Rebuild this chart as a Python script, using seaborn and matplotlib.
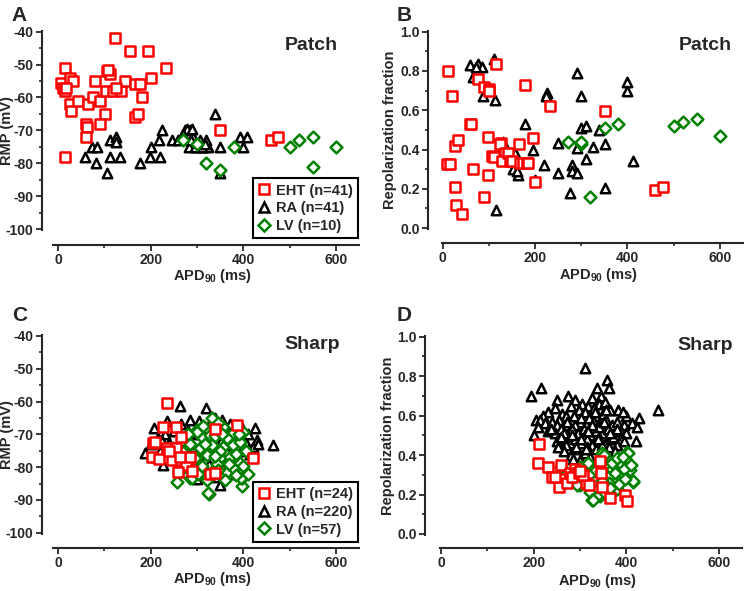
import seaborn as sns
import matplotlib.pyplot as plt
import numpy as np
import pandas as pd
from matplotlib.ticker import MultipleLocator
from matplotlib.lines import Line2D

# ---- Patch: RMP vs APD90 (A) ----
a_eht_x = [124, 155, 195, 233, 14, 7, 10, 14, 25, 32, 18, 25, 27, 43, 65, 76, 79, 90, 106, 112,
           108, 104, 119, 135, 145, 166, 178, 200, 182, 166, 172, 101, 90, 60, 63, 61, 14, 349, 460, 475, 125]
a_eht_y = [-42, -46, -46, -51, -51, -55.5, -57, -58, -54, -55, -57, -62, -64, -61, -62, -60, -55, -61, -52, -53,
           -51.5, -58, -58, -58, -55, -56, -56, -54, -60, -66, -65, -65, -68, -68, -69, -72, -78, -70, -73, -72, -57]
a_ra_x = [339, 58, 74, 85, 83, 106, 113, 125, 126, 113, 133, 177, 200, 198, 220, 217, 224, 247, 274, 285,
          292, 306, 302, 313, 324, 283, 349, 349, 393, 408, 400, 278, 289, 296, 280, 270, 260, 310, 320, 288, 318]
a_ra_y = [-65, -78, -75, -75, -80, -83, -73, -72, -73.5, -78, -78, -80, -75, -78, -78, -73, -70, -73, -70, -70,
          -72, -73, -75, -75, -75, -75, -75, -83, -72, -72, -75, -69.5, -69.5, -75, -72, -71, -73, -75, -73, -73, -74]
a_lv_x = [269, 300, 320, 349, 380, 500, 520, 551, 551, 600]
a_lv_y = [-73, -74, -80, -82, -75, -75, -73, -72, -81, -75]

# ---- Patch: repolarization fraction vs APD90 (B) ----
b_eht_x = [12, 21, 9, 16, 27, 34, 27, 29, 41, 59, 62, 65, 89, 98, 99, 106, 112, 77, 89, 101, 100,
           115, 126, 124, 135, 128, 141, 146, 150, 166, 167, 173, 182, 185, 195, 178, 200, 232, 351, 459, 476]
b_eht_y = [0.80, 0.67, 0.325, 0.325, 0.42, 0.45, 0.21, 0.115, 0.07, 0.53, 0.53, 0.30, 0.16, 0.27, 0.465, 0.365,
           0.36, 0.76, 0.72, 0.71, 0.70, 0.835, 0.435, 0.43, 0.38, 0.34, 0.38, 0.34, 0.34, 0.43, 0.33, 0.33, 0.33,
           0.33, 0.46, 0.73, 0.237, 0.62, 0.597, 0.195, 0.21]
b_ra_x = [59, 77, 86, 110, 65, 88, 113, 115, 126, 131, 126, 153, 157, 164, 179, 196, 200, 219, 225, 224,
          249, 250, 276, 279, 279, 290, 290, 290, 299, 299, 310, 310, 326, 339, 351, 351, 400, 398, 411, 72, 160]
b_ra_y = [0.83, 0.835, 0.82, 0.86, 0.77, 0.67, 0.65, 0.09, 0.39, 0.44, 0.355, 0.30, 0.38, 0.27, 0.53, 0.40,
          0.245, 0.32, 0.69, 0.675, 0.435, 0.28, 0.18, 0.32, 0.29, 0.28, 0.41, 0.79, 0.67, 0.51, 0.52, 0.35,
          0.415, 0.50, 0.43, 0.205, 0.745, 0.70, 0.34, 0.82, 0.29]
b_lv_x = [272, 299, 319, 351, 380, 500, 521, 551, 600, 300]
b_lv_y = [0.44, 0.43, 0.16, 0.51, 0.53, 0.52, 0.54, 0.555, 0.47, 0.44]

# ---- Sharp: RMP vs APD90 (C) ----
c_eht_x = [236, 227, 254, 266, 338, 386, 205, 202, 218, 236, 254, 247, 266, 283, 276, 258, 290, 328,
           338, 420, 285, 209, 263, 240]
c_eht_y = [-60.3, -67.7, -67.7, -70.9, -68.5, -67.3, -72.6, -76.8, -77.6, -74.2, -74.2, -77.8, -77.8, -77.6,
           -79.4, -81.4, -81.2, -82.1, -81.7, -77.3, -76.8, -72.3, -76.8, -75]
c_ra_x = [187, 200, 207, 215, 220, 227, 232, 240, 245, 250, 255, 263, 265, 270, 275, 280, 285, 290, 295, 299,
          300, 305, 310, 315, 320, 322, 325, 330, 335, 340, 345, 349, 352, 355, 360, 365, 368, 372, 378, 382,
          388, 392, 398, 403, 410, 415, 420, 426, 430, 432, 465, 212, 236, 258, 288, 318, 338, 362, 375, 395,
          345, 330, 310, 283, 268, 248, 225]
c_ra_y = [-75.6, -73, -68.2, -71, -75, -79.5, -70, -72.5, -77, -69, -74, -61.3, -67, -72, -76, -69, -65.5, -74,
          -79, -83.5, -70, -66, -76, -72, -62, -68, -79, -74, -70, -65, -77, -85.6, -72, -65.6, -69, -75, -80,
          -67, -71, -77, -74, -79, -68, -72, -70, -76, -74, -68.2, -71.7, -73, -73.4, -77, -66, -80, -78, -82,
          -83, -78, -82, -75, -68, -66, -70, -73, -78, -74, -72]
c_lv_x = [256, 286, 326, 333, 398, 398, 299, 299, 314, 328, 306, 332, 357, 378, 393, 400, 296, 321, 350, 371,
          393, 400, 310, 332, 364, 378, 396, 324, 289, 357, 378, 345, 340, 365, 350, 285, 270, 275, 290, 318,
          343, 360, 385, 405, 410, 385, 345, 303, 265, 280, 312, 370, 338, 322, 355, 390, 262]
c_lv_y = [-84.5, -83.4, -88.2, -65.1, -85.8, -83.4, -68.7, -69.2, -71.2, -70.2, -74.3, -73.3, -73.8, -73.3,
          -72.2, -69.2, -77.3, -76.3, -77.3, -76.8, -78.8, -79.8, -79.8, -81.4, -81.4, -80.4, -83.4, -88, -83.4,
          -67.7, -69.7, -66.5, -70.5, -71, -75, -73, -75.5, -79, -80, -73, -79, -84, -76, -75, -82, -82.5, -81,
          -82, -81, -70, -67.5, -79, -76.5, -84, -70, -70, -77]

# ---- Sharp: repolarization fraction vs APD90 (D) ----
d_eht_x = [212, 210, 230, 239, 258, 257, 255, 271, 278, 289, 294, 282, 298, 314, 320, 343, 345, 348,
           365, 397, 401, 307, 246, 300]
d_eht_y = [0.455, 0.36, 0.34, 0.29, 0.35, 0.28, 0.24, 0.26, 0.31, 0.33, 0.31, 0.29, 0.31, 0.26, 0.25, 0.37,
           0.31, 0.24, 0.18, 0.20, 0.165, 0.30, 0.29, 0.32]
d_ra_x = [194, 215, 250, 275, 311, 336, 359, 363, 290, 305, 325, 345, 340, 355, 318,
          230, 245, 262, 280, 297, 310, 330, 350, 365, 383, 399, 469, 428, 220, 270, 335, 392,
          205, 214, 225, 240, 255, 268, 285, 300, 315, 328, 342, 357, 370, 380, 395, 412, 422, 250, 290, 320,
          201, 210, 232, 245, 260, 275, 282, 295, 308, 322, 335, 348, 360, 375, 388, 400, 265, 340, 310, 380,
          250, 262, 278, 290, 303, 316, 330, 343, 356, 368, 380, 421, 395, 270, 325,
          253, 265, 280, 292, 300, 310, 322, 335, 350, 362, 375, 285, 315, 345,
          238, 258, 287, 302, 327, 352, 372, 292, 312, 333, 347, 365, 283, 303, 338, 357, 272, 318]
d_ra_y = [0.70, 0.74, 0.68, 0.70, 0.84, 0.74, 0.78, 0.74, 0.68, 0.66, 0.69, 0.70, 0.66, 0.67, 0.65,
          0.62, 0.64, 0.61, 0.65, 0.63, 0.62, 0.64, 0.61, 0.63, 0.63, 0.60, 0.63, 0.59, 0.60, 0.60, 0.60, 0.62,
          0.58, 0.58, 0.56, 0.57, 0.58, 0.55, 0.58, 0.57, 0.56, 0.58, 0.56, 0.58, 0.55, 0.57, 0.55, 0.56, 0.54,
          0.55, 0.55, 0.59,
          0.50, 0.54, 0.52, 0.51, 0.53, 0.50, 0.53, 0.51, 0.53, 0.50, 0.52, 0.51, 0.53, 0.50, 0.52, 0.51, 0.51,
          0.54, 0.50, 0.53,
          0.47, 0.48, 0.46, 0.48, 0.46, 0.48, 0.46, 0.48, 0.46, 0.48, 0.45, 0.47, 0.47, 0.45, 0.45,
          0.44, 0.42, 0.40, 0.43, 0.375, 0.41, 0.39, 0.43, 0.41, 0.44, 0.42, 0.38, 0.44, 0.38,
          0.53, 0.49, 0.60, 0.48, 0.55, 0.57, 0.49, 0.44, 0.43, 0.62, 0.45, 0.51, 0.50, 0.59, 0.48, 0.63, 0.57, 0.52]
d_lv_x = [347, 401, 399, 402, 415, 386, 372, 358, 332, 314, 321, 325, 343, 375, 300, 336, 328, 379, 311, 365,
          351, 318, 293, 394, 408, 404, 400, 414, 379, 260, 265, 355, 340, 390, 370, 335, 310, 350, 362, 385,
          395, 345, 305, 330, 370, 380, 392, 320, 355, 340, 300, 285, 410, 365, 348, 398, 375]
d_lv_y = [0.41, 0.415, 0.37, 0.32, 0.265, 0.30, 0.275, 0.30, 0.32, 0.35, 0.215, 0.17, 0.19, 0.225, 0.25, 0.19,
          0.17, 0.23, 0.33, 0.30, 0.40, 0.36, 0.25, 0.30, 0.325, 0.41, 0.375, 0.267, 0.275, 0.34, 0.26, 0.35,
          0.28, 0.35, 0.33, 0.24, 0.28, 0.23, 0.26, 0.255, 0.33, 0.32, 0.31, 0.27, 0.36, 0.385, 0.39, 0.30, 0.21,
          0.36, 0.34, 0.29, 0.35, 0.235, 0.27, 0.28, 0.31]

sns.set_style("ticks")
plt.rcParams['font.family'] = ['Liberation Sans', 'DejaVu Sans']
plt.rcParams['font.weight'] = 'bold'
plt.rcParams['axes.labelweight'] = 'bold'
plt.rcParams['axes.unicode_minus'] = False
plt.rcParams['mathtext.fontset'] = 'custom'
plt.rcParams['mathtext.rm'] = 'Liberation Sans:bold'
plt.rcParams['mathtext.bf'] = 'Liberation Sans:bold'

RED, BLACK, GREEN = '#ff0000', '#000000', '#008000'

fig = plt.figure(figsize=(7.44, 5.91), dpi=100)

# [left, bottom, width, height], xlim, ylim, spine offsets (left, bottom) in pt
layout = {
    'A': ([0.0718, 0.6108, 0.4108, 0.3372], (-10, 650), (-100.3, -39.7), (8.2, 10.8)),
    'B': ([0.5938, 0.6125, 0.4048, 0.3355], (-2, 650), (-0.005, 1.005), (9.9, 10.0)),
    'C': ([0.0718, 0.0970, 0.4108, 0.3362], (-10, 650), (-100.3, -39.7), (8.2, 10.3)),
    'D': ([0.5915, 0.0948, 0.4060, 0.3372], (-2, 650), (-0.005, 1.005), (10.8, 9.4)),
}
panels = {
    'A': (a_eht_x, a_eht_y, a_ra_x, a_ra_y, a_lv_x, a_lv_y, 'Patch', [41, 41, 10]),
    'B': (b_eht_x, b_eht_y, b_ra_x, b_ra_y, b_lv_x, b_lv_y, 'Patch', None),
    'C': (c_eht_x, c_eht_y, c_ra_x, c_ra_y, c_lv_x, c_lv_y, 'Sharp', [24, 220, 57]),
    'D': (d_eht_x, d_eht_y, d_ra_x, d_ra_y, d_lv_x, d_lv_y, 'Sharp', None),
}
letter_pos = {'A': (0.016, 0.99), 'B': (0.533, 0.99), 'C': (0.016, 0.483), 'D': (0.533, 0.483)}
text_pos = {'A': (0.93, 0.928), 'B': (0.962, 0.928), 'C': (0.936, 0.95), 'D': (0.97, 0.95)}

for key in ['A', 'B', 'C', 'D']:
    rect, xlim, ylim, offs = layout[key]
    ex, ey, rx, ry, lx, ly, method, ns = panels[key]
    ax = fig.add_axes(rect)
    kw = dict(s=46, linewidth=1.8, facecolor='white', ax=ax, clip_on=False)
    sns.scatterplot(x=rx, y=ry, marker='^', edgecolor=BLACK, zorder=3, **kw)
    sns.scatterplot(x=lx, y=ly, marker='D', edgecolor=GREEN, zorder=4, **dict(kw, s=36))
    sns.scatterplot(x=ex, y=ey, marker='s', edgecolor=RED, zorder=5, **kw)
    ax.set_xlim(*xlim)
    ax.set_ylim(*ylim)
    sns.despine(ax=ax)
    ax.spines['left'].set_position(('outward', offs[0]))
    ax.spines['bottom'].set_position(('outward', offs[1]))
    for sp in ['left', 'bottom']:
        ax.spines[sp].set_linewidth(1.5)
    ax.xaxis.set_major_locator(MultipleLocator(200))
    ax.xaxis.set_minor_locator(MultipleLocator(100))
    if key in 'AC':
        ax.set_ylabel('RMP (mV)', fontsize=10.5, fontweight='bold')
        ax.yaxis.set_major_locator(MultipleLocator(10))
        ax.yaxis.set_minor_locator(MultipleLocator(5))
        ax.yaxis.set_label_coords(-0.13, 0.5)
    else:
        ax.set_ylabel('Repolarization fraction', fontsize=10.5, fontweight='bold')
        ax.yaxis.set_minor_locator(MultipleLocator(0.1))
        ax.set_yticks(np.arange(0, 1.01, 0.2))
        ax.set_yticklabels([f'{v:.1f}' for v in np.arange(0, 1.01, 0.2)])
        ax.yaxis.set_label_coords(-0.148, 0.5)
    ax.set_xlabel(r'APD$_{90}$ (ms)', fontsize=10.5, fontweight='bold')
    ax.xaxis.set_label_coords(0.52, -0.185)
    ax.tick_params(which='major', direction='out', length=4, width=1.3, labelsize=10, pad=2)
    ax.tick_params(which='minor', direction='out', length=2.5, width=1.2)
    for lab in ax.get_xticklabels() + ax.get_yticklabels():
        lab.set_fontweight('bold')
    ax.text(*text_pos[key], method, transform=ax.transAxes, ha='right', va='center',
            fontsize=14, fontweight='bold')
    fig.text(*letter_pos[key], key, ha='left', va='top', fontsize=15, fontweight='bold')

    if ns is not None:
        handles = [
            Line2D([], [], ls='none', marker='s', ms=6.5, mfc='white', mec=RED, mew=1.8),
            Line2D([], [], ls='none', marker='^', ms=7, mfc='white', mec=BLACK, mew=1.8),
            Line2D([], [], ls='none', marker='D', ms=6, mfc='white', mec=GREEN, mew=1.8),
        ]
        labels = [f'EHT (n={ns[0]})', f'RA (n={ns[1]})', f'LV (n={ns[2]})']
        leg = ax.legend(handles, labels, loc='lower right', bbox_to_anchor=(0.997, -0.04),
                        borderaxespad=0, fancybox=False, framealpha=1, edgecolor='black',
                        prop={'weight': 'bold', 'size': 10.5}, handlelength=0.9,
                        handletextpad=0.35, labelspacing=0.25, borderpad=0.35)
        leg.get_frame().set_linewidth(1.5)
        leg.set_zorder(10)

fig.savefig('out.png', dpi=100)
